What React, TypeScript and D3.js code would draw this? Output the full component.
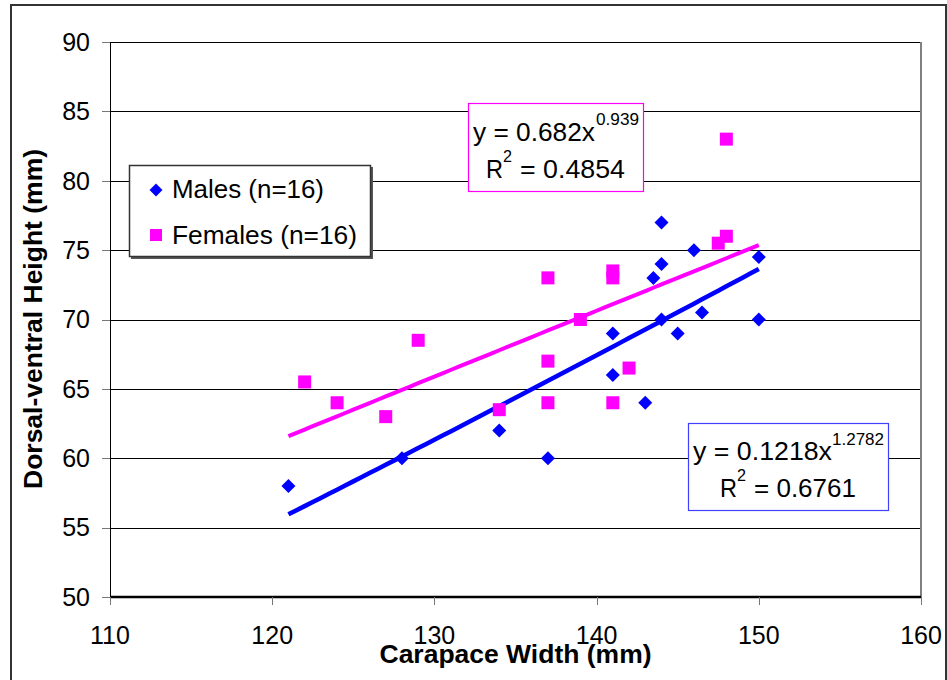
import React from 'react';
import * as d3 from 'd3';

// carapace width (mm) / dorsal-ventral height (mm)
const malesX = [121, 128, 134, 137, 141, 141, 143, 143.5, 144, 144, 144, 145, 146, 146.5, 150, 150];
const malesY = [58, 60, 62, 60, 69, 66, 64, 73, 77, 74, 70, 69, 75, 70.5, 74.5, 70];
const femalesX = [122, 124, 127, 129, 134, 137, 137, 137, 139, 141, 141, 141, 142, 147.5, 148, 148];
const femalesY = [65.5, 64, 63, 68.5, 63.5, 73, 67, 64, 70, 73.5, 73, 64, 66.5, 75.5, 76, 83];

const xTicks = [110, 120, 130, 140, 150, 160];
const yTicks = [50, 55, 60, 65, 70, 75, 80, 85, 90];

// power trendlines y = a * x^b
const maleFit = { a: 0.1218, b: 1.2782 };
const femaleFit = { a: 0.682, b: 0.939 };
const fitRange = [121, 150];

const W = 947, H = 680;
const FONT = 'Liberation Sans, Arial, sans-serif';
const BLUE = '#0000ff';
const PINK = '#ff00ff';

const x = d3.scaleLinear().domain([110, 160]).range([110, 921]);
const y = d3.scaleLinear().domain([50, 90]).range([597, 42]);

const diamond = 'M0,-7L7,0L0,7L-7,0Z';

const fitLine = (fit: { a: number; b: number }) =>
  d3.line<number>()
    .x(d => x(d))
    .y(d => y(fit.a * Math.pow(d, fit.b)))(d3.range(fitRange[0], fitRange[1] + 0.01, 0.5)) || '';

// text squeezed/stretched to the width seen in the reference
const T = ({ x, y, w, size = 25, children }: any) => (
  <text x={x} y={y} fontSize={size} textLength={w} lengthAdjust="spacingAndGlyphs">{children}</text>
);

const App = () => {
  return (
    <svg width={W} height={H} style={{ position: 'absolute', left: 0, top: 0 }} fontFamily={FONT}>
      <rect x={0} y={0} width={W} height={H} fill="#fff" />
      {/* chart border */}
      <rect x={11} y={5} width={935} height={700} fill="none" stroke="#333" strokeWidth={2} />

      {/* gridlines */}
      {yTicks.slice(1).map(t => (
        <line key={t} x1={x(110)} x2={x(160)} y1={Math.round(y(t)) + 0.5} y2={Math.round(y(t)) + 0.5} stroke="#000" strokeWidth={1} />
      ))}
      {/* plot right edge */}
      <line x1={921} x2={921} y1={y(90)} y2={y(50)} stroke="#808080" strokeWidth={2} />
      {/* y axis */}
      <line x1={110.5} x2={110.5} y1={y(90)} y2={y(50)} stroke="#000" strokeWidth={1} />
      {yTicks.map(t => (
        <g key={t}>
          <line x1={102} x2={110} y1={Math.round(y(t)) + 0.5} y2={Math.round(y(t)) + 0.5} stroke="#777" />
          <text x={90} y={y(t)} dy="0.35em" textAnchor="end" fontSize={25}>{t}</text>
        </g>
      ))}
      {/* x axis */}
      <line x1={x(110)} x2={x(160)} y1={y(50)} y2={y(50)} stroke="#000" strokeWidth={2.5} />
      {xTicks.map(t => (
        <g key={t}>
          <line x1={Math.round(x(t)) + 0.5} x2={Math.round(x(t)) + 0.5} y1={y(50)} y2={y(50) + 8} stroke="#777" />
          <text x={x(t)} y={644} textAnchor="middle" fontSize={25}>{t}</text>
        </g>
      ))}

      {/* axis titles */}
      <text x={(x(110) + x(160)) / 2} y={663} textAnchor="middle" fontSize={25} fontWeight="bold"
        textLength={272} lengthAdjust="spacingAndGlyphs">Carapace Width (mm)</text>
      <text transform="translate(42,319) rotate(-90)" textAnchor="middle" fontSize={25} fontWeight="bold"
        textLength={340} lengthAdjust="spacingAndGlyphs">Dorsal-ventral Height (mm)</text>

      {/* trendlines */}
      <path d={fitLine(femaleFit)} fill="none" stroke={PINK} strokeWidth={4} />
      <path d={fitLine(maleFit)} fill="none" stroke={BLUE} strokeWidth={4.5} />

      {/* points */}
      {femalesX.map((v, i) => (
        <rect key={'f' + i} x={x(v) - 6.5} y={y(femalesY[i]) - 6.5} width={13} height={13} fill={PINK} />
      ))}
      {malesX.map((v, i) => (
        <path key={'m' + i} d={diamond} transform={`translate(${x(v)},${y(malesY[i])})`} fill={BLUE} />
      ))}

      {/* legend */}
      <rect x={131} y={167} width={242} height={92} fill="#555" />
      <rect x={129.5} y={165.5} width={241} height={91} fill="#fff" stroke="#333" strokeWidth={1.5} />
      <path d="M0,-6.5L6.5,0L0,6.5L-6.5,0Z" transform="translate(156,190)" fill={BLUE} />
      <T x={172} y={198} w={152}>Males (n=16)</T>
      <rect x={150} y={229} width={12} height={12} fill={PINK} />
      <T x={172} y={244} w={185}>Females (n=16)</T>

      {/* female equation */}
      <rect x={468.5} y={103.5} width={175} height={88} fill="#fff" stroke={PINK} strokeWidth={1.2} />
      <T x={473} y={141} w={122}>y = 0.682x</T>
      <T x={596} y={125} w={43} size={16}>0.939</T>
      <T x={486} y={178} w={17}>R</T>
      <T x={503} y={162} w={9} size={16}>2</T>
      <T x={520} y={178} w={105}>= 0.4854</T>

      {/* male equation */}
      <rect x={688.5} y={423.5} width={200} height={87} fill="#fff" stroke="#4040ff" strokeWidth={1.2} />
      <T x={693} y={460} w={139}>y = 0.1218x</T>
      <T x={832} y={445} w={52} size={16}>1.2782</T>
      <T x={720} y={497} w={17}>R</T>
      <T x={737} y={481} w={9} size={16}>2</T>
      <T x={754} y={497} w={102}>= 0.6761</T>
    </svg>
  );
};

export default App;
